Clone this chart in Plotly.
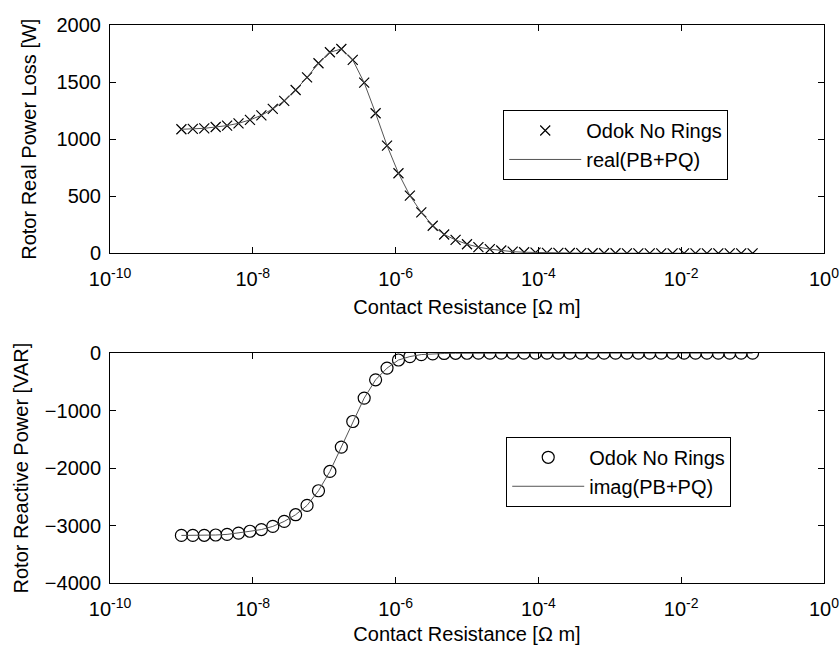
import numpy as np
import plotly.graph_objects as go

# Contact resistance values (Ohm m), 51 log-spaced points from 1e-9 to 1e-1
exponents = [-9 + 0.16 * i for i in range(51)]
contact_resistance = [10 ** e for e in exponents]

real_power_loss = [1087, 1090, 1095, 1107, 1119, 1139, 1169, 1209, 1265, 1335,
                   1431, 1542, 1665, 1761, 1790, 1694, 1495, 1227, 944, 702,
                   506, 359, 242, 165, 118, 80, 55, 37, 25, 15,
                   10, 7, 5, 4, 3, 2, 1.5, 1, 1, 0.7,
                   0.5, 0.4, 0.3, 0.2, 0.2, 0.1, 0.1, 0.1, 0.1, 0.1, 0.1]

reactive_power = [-3172, -3172, -3170, -3165, -3154, -3131, -3100, -3070, -3015, -2928,
                  -2812, -2650, -2395, -2059, -1635, -1190, -783, -464, -261, -120,
                  -60, -25, -12, -6, -3, -2, -1, -1, 0, 0,
                  0, 0, 0, 0, 0, 0, 0, 0, 0, 0,
                  0, 0, 0, 0, 0, 0, 0, 0, 0, 0, 0]

x_tickvals = [1e-10, 1e-8, 1e-6, 1e-4, 1e-2, 1]
x_ticktext = ["10<sup>-10</sup>", "10<sup>-8</sup>", "10<sup>-6</sup>",
              "10<sup>-4</sup>", "10<sup>-2</sup>", "10<sup>0</sup>"]
top_yticks = [0, 500, 1000, 1500, 2000]
bottom_yticks = [-4000, -3000, -2000, -1000, 0]

FONT = "Liberation Sans, Arial, sans-serif"
FS = 20
fig = go.Figure()

fig.add_trace(go.Scatter(
    x=contact_resistance, y=real_power_loss, mode="markers", name="Odok No Rings",
    marker=dict(symbol="x-thin-open", size=10, color="black", line=dict(color="black", width=1.2)),
    xaxis="x", yaxis="y", legend="legend"))
fig.add_trace(go.Scatter(
    x=contact_resistance, y=real_power_loss, mode="lines", name="real(PB+PQ)",
    line=dict(color="#555555", width=1), xaxis="x", yaxis="y", legend="legend"))

fig.add_trace(go.Scatter(
    x=contact_resistance, y=reactive_power, mode="markers", name="Odok No Rings",
    marker=dict(symbol="circle-open", size=12, color="black", line=dict(color="black", width=1.2)),
    xaxis="x2", yaxis="y2", legend="legend2"))
fig.add_trace(go.Scatter(
    x=contact_resistance, y=reactive_power, mode="lines", name="imag(PB+PQ)",
    line=dict(color="#555555", width=1), xaxis="x2", yaxis="y2", legend="legend2"))

W, H = 840, 652
ML, MR, MT, MB = 109.5, 16, 25, 68.7
PW = W - ML - MR
PH = H - MT - MB
bottom_px = H - MB
top_dom = [(bottom_px - 253.5) / PH, 1]
bot_dom = [0, (bottom_px - 353.3) / PH]


def px_x(px):
    return (px - ML) / PW


def px_y(py):
    return (bottom_px - py) / PH


axis_common = dict(showline=True, linecolor="black", linewidth=1, mirror="ticks",
                   ticks="inside", ticklen=6, tickcolor="black", showgrid=False,
                   zeroline=False, automargin=False,
                   tickfont=dict(size=FS, color="black", family=FONT),
                   title_font=dict(size=FS, color="black", family=FONT))

xaxis_common = dict(axis_common, type="log", range=[-10, 0], tickvals=x_tickvals,
                    ticktext=x_ticktext, title_text="Contact Resistance [Ω m]",
                    ticklabelstandoff=8, domain=[0, 1])

fig.update_layout(
    width=W, height=H, margin=dict(l=ML, r=MR, t=MT, b=MB),
    paper_bgcolor="white", plot_bgcolor="white",
    font=dict(family=FONT, color="black", size=FS),
    xaxis=dict(xaxis_common, anchor="y", title_standoff=10),
    yaxis=dict(axis_common, domain=top_dom, range=[0, 2000], tickvals=top_yticks,
               title_text="Rotor Real Power Loss [W]", anchor="x", title_standoff=14,
               ticklabelstandoff=4),
    xaxis2=dict(xaxis_common, anchor="y2", title_standoff=7),
    yaxis2=dict(axis_common, domain=bot_dom, range=[-4000, 0], tickvals=bottom_yticks,
                title_text="Rotor Reactive Power [VAR]", anchor="x2", title_standoff=10,
                ticklabelstandoff=4),
    legend=dict(x=px_x(503), y=px_y(110), xanchor="left", yanchor="top",
                bordercolor="black", borderwidth=1, bgcolor="white", itemwidth=72,
                font=dict(size=FS, family=FONT), tracegroupgap=0),
    legend2=dict(x=px_x(506), y=px_y(437), xanchor="left", yanchor="top",
                 bordercolor="black", borderwidth=1, bgcolor="white", itemwidth=72,
                 font=dict(size=FS, family=FONT), tracegroupgap=0),
    showlegend=True,
)

fig.write_html("out.html")
